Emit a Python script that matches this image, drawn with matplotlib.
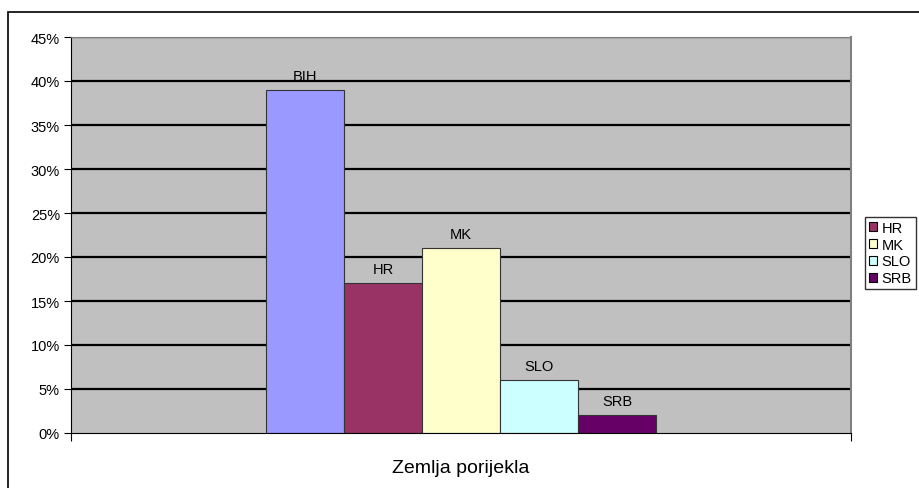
import matplotlib.pyplot as plt
from matplotlib.patches import Rectangle, Patch
from matplotlib.ticker import PercentFormatter

countries = ['BIH', 'HR', 'MK', 'SLO', 'SRB']
shares = [0.39, 0.17, 0.21, 0.06, 0.02]
colors = ['#9999FF', '#993366', '#FFFFCC', '#CCFFFF', '#660066']
y_ticks = [0, 0.05, 0.10, 0.15, 0.20, 0.25, 0.30, 0.35, 0.40, 0.45]

plt.rcParams['font.family'] = ['Liberation Sans', 'DejaVu Sans']

W, H = 920, 489
fig = plt.figure(figsize=(W / 100, H / 100), dpi=100)
fig.patch.set_facecolor('white')

# outer chart border (Excel style, cut at right/bottom)
fig.patches.append(Rectangle((8 / W, -0.1), 1.2, 1 - 13 / H + 0.1,
                             transform=fig.transFigure, fill=False,
                             edgecolor='black', linewidth=1.2))

ax = fig.add_axes([71 / W, 1 - 434 / H, (851 - 71) / W, (434 - 38) / H])
ax.set_facecolor('#C0C0C0')

for y in y_ticks[1:]:
    ax.axhline(y, color='black', linewidth=1.6, zorder=1)

x = list(range(len(countries)))
ax.bar(x, shares, width=1.0, color=colors, edgecolor='#333333',
       linewidth=0.8, zorder=2)
for xi, v, name in zip(x, shares, countries):
    ax.text(xi, v + 0.008, name, ha='center', va='bottom', fontsize=10.5)

ax.set_xlim(-3, 7)
ax.set_ylim(0, 0.45)
ax.set_yticks(y_ticks)
ax.yaxis.set_major_formatter(PercentFormatter(1.0, decimals=0))
ax.tick_params(axis='y', direction='out', length=5, labelsize=10.5, pad=3)
ax.set_xticks([-3, 7])
ax.set_xticklabels([])
ax.tick_params(axis='x', direction='out', length=6)
ax.set_xlabel('Zemlja porijekla', fontsize=14, labelpad=9)

ax.spines['left'].set_color('black')
ax.spines['bottom'].set_color('black')
ax.spines['top'].set_color('#808080')
ax.spines['right'].set_color('#808080')
ax.spines['right'].set_linewidth(1.5)

handles = [Patch(facecolor=c, edgecolor='black', linewidth=0.8)
           for c in colors[1:]]
leg = fig.legend(handles, countries[1:], loc='upper left',
                 bbox_to_anchor=(865 / W, 1 - 218 / H), fontsize=10.5,
                 frameon=True, fancybox=False, handlelength=0.55,
                 handleheight=0.55, handletextpad=0.35, borderpad=0.25,
                 labelspacing=0.2, borderaxespad=0)
leg.get_frame().set_edgecolor('black')
leg.get_frame().set_linewidth(1.0)

fig.savefig('out.png', dpi=100)
